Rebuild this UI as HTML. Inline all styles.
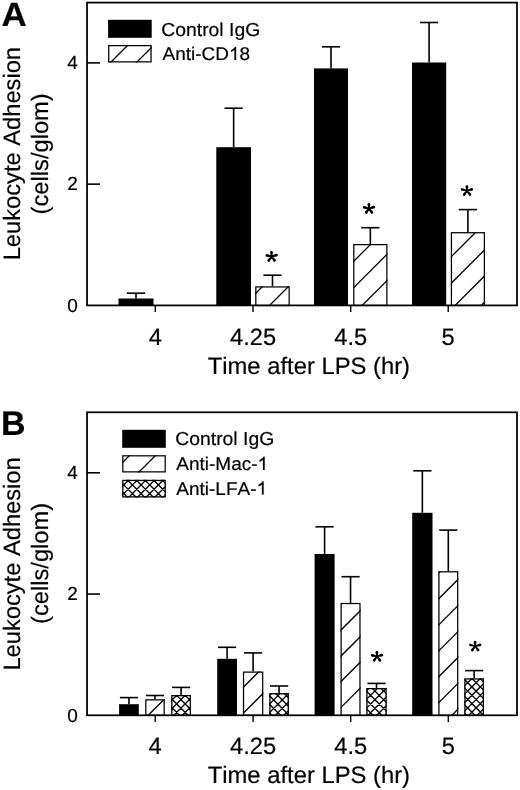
<!DOCTYPE html>
<html><head><meta charset="utf-8"><style>
html,body{margin:0;padding:0;background:#fff;width:520px;height:790px;overflow:hidden;}
svg{display:block;will-change:transform;}
text{font-family:"Liberation Sans", sans-serif;fill:#000;stroke:#000;stroke-width:0.2px;font-kerning:none;text-rendering:geometricPrecision;}
</style></head><body>
<svg width="520" height="790" viewBox="0 0 520 790" stroke="#000" fill="none">
<rect x="87.05" y="2.60" width="429.95" height="302.80" fill="none" stroke-width="1.75"/>
<line x1="87.05" y1="184.14" x2="100.00" y2="184.14" stroke-width="1.6"/>
<line x1="87.05" y1="62.88" x2="100.00" y2="62.88" stroke-width="1.6"/>
<line x1="155.30" y1="305.40" x2="155.30" y2="312.00" stroke-width="1.4"/>
<line x1="253.00" y1="305.40" x2="253.00" y2="312.00" stroke-width="1.4"/>
<line x1="350.70" y1="305.40" x2="350.70" y2="312.00" stroke-width="1.4"/>
<line x1="448.20" y1="305.40" x2="448.20" y2="312.00" stroke-width="1.4"/>
<g transform="translate(77.70 311.60) scale(1 1.0)"><text x="-10.57" y="0" font-size="19">0</text></g>
<g transform="translate(77.70 190.34) scale(1 1.0)"><text x="-10.57" y="0" font-size="19">2</text></g>
<g transform="translate(77.70 69.08) scale(1 1.0)"><text x="-10.57" y="0" font-size="19">4</text></g>
<g transform="translate(155.30 345.10) scale(1 1.0)"><text x="-6.59" y="0" font-size="23.7">4</text></g>
<g transform="translate(253.00 345.10) scale(1 1.0)"><text x="-23.06" y="0" font-size="23.7">4.25</text></g>
<g transform="translate(350.70 345.10) scale(1 1.0)"><text x="-16.47" y="0" font-size="23.7">4.5</text></g>
<g transform="translate(448.20 345.10) scale(1 1.0)"><text x="-6.59" y="0" font-size="23.7">5</text></g>
<g transform="translate(207.70 373.90) scale(1 1.0)"><text x="0.00" y="0" font-size="23.8">Time after LPS (hr)</text></g>
<g transform="translate(19.50 153.60) rotate(-90) scale(1 1.0)"><text x="-106.73" y="0" font-size="23.7">Leukocyte Adhesion</text></g>
<g transform="translate(47.70 153.80) rotate(-90) scale(1 1.0)"><text x="-60.58" y="0" font-size="23.7">(cells/glom)</text></g>
<g transform="translate(1.55 25.80) scale(1 0.96)"><text x="0.00" y="0" font-size="35" font-weight="bold">A</text></g>
<rect x="108.10" y="19.80" width="43.60" height="18.00" fill="#000" stroke="none"/>
<clipPath id="c1"><rect x="108.10" y="45.00" width="43.60" height="17.50"/></clipPath>
<path clip-path="url(#c1)" d="M105.50 67.50L133.00 40.00M131.50 67.50L159.00 40.00" stroke-width="1.3" fill="none"/>
<rect x="108.72" y="45.62" width="42.35" height="16.25" fill="none" stroke-width="1.25"/>
<g transform="translate(161.30 35.50) scale(1 0.97)"><text x="0.00" y="0" font-size="19.35">Control IgG</text></g>
<g transform="translate(162.50 60.00) scale(1 0.97)"><text x="0.00" y="0" font-size="19">Anti-CD</text><path transform="translate(66.51 0) scale(19 19.5876)" d="M0.3726 0L0.2847 0L0.2847 -0.5361Q0.2017 -0.4604 0.1079 -0.4346L0.1079 -0.5160Q0.2637 -0.5851 0.3149 -0.6880L0.3726 -0.6880Z" fill="#000" stroke="#000" stroke-width="0.01053"/><text x="77.08" y="0" font-size="19">8</text></g>
<rect x="118.50" y="298.50" width="35.00" height="6.90" fill="#000" stroke="none"/>
<line x1="136.00" y1="298.50" x2="136.00" y2="293.20" stroke-width="1.6"/>
<line x1="126.90" y1="293.20" x2="145.10" y2="293.20" stroke-width="1.6"/>
<rect x="216.30" y="147.20" width="34.70" height="158.20" fill="#000" stroke="none"/>
<line x1="233.65" y1="147.20" x2="233.65" y2="108.20" stroke-width="1.6"/>
<line x1="224.55" y1="108.20" x2="242.75" y2="108.20" stroke-width="1.6"/>
<rect x="314.00" y="68.40" width="34.00" height="237.00" fill="#000" stroke="none"/>
<line x1="331.00" y1="68.40" x2="331.00" y2="46.80" stroke-width="1.6"/>
<line x1="321.90" y1="46.80" x2="340.10" y2="46.80" stroke-width="1.6"/>
<rect x="412.00" y="62.50" width="34.20" height="242.90" fill="#000" stroke="none"/>
<line x1="429.10" y1="62.50" x2="429.10" y2="22.50" stroke-width="1.6"/>
<line x1="420.00" y1="22.50" x2="438.20" y2="22.50" stroke-width="1.6"/>
<line x1="272.50" y1="286.30" x2="272.50" y2="275.20" stroke-width="1.6"/>
<line x1="263.40" y1="275.20" x2="281.60" y2="275.20" stroke-width="1.6"/>
<clipPath id="c2"><rect x="255.20" y="286.30" width="34.60" height="19.80"/></clipPath>
<path clip-path="url(#c2)" d="M237.90 311.10L267.70 281.30M263.90 311.10L293.70 281.30" stroke-width="1.3" fill="none"/>
<rect x="255.82" y="286.93" width="33.35" height="18.55" fill="none" stroke-width="1.25"/>
<line x1="370.35" y1="244.00" x2="370.35" y2="227.70" stroke-width="1.6"/>
<line x1="361.25" y1="227.70" x2="379.45" y2="227.70" stroke-width="1.6"/>
<clipPath id="c3"><rect x="353.20" y="244.00" width="34.30" height="62.10"/></clipPath>
<path clip-path="url(#c3)" d="M303.90 311.10L376.00 239.00M330.20 311.10L402.30 239.00M356.50 311.10L428.60 239.00" stroke-width="1.3" fill="none"/>
<rect x="353.82" y="244.62" width="33.05" height="60.85" fill="none" stroke-width="1.25"/>
<line x1="467.90" y1="232.10" x2="467.90" y2="209.60" stroke-width="1.6"/>
<line x1="458.80" y1="209.60" x2="477.00" y2="209.60" stroke-width="1.6"/>
<clipPath id="c4"><rect x="450.80" y="232.10" width="34.20" height="74.00"/></clipPath>
<path clip-path="url(#c4)" d="M396.90 311.10L480.90 227.10M423.40 311.10L507.40 227.10M449.40 311.10L533.40 227.10M475.50 311.10L559.50 227.10" stroke-width="1.3" fill="none"/>
<rect x="451.43" y="232.72" width="32.95" height="72.75" fill="none" stroke-width="1.25"/>
<path d="M272.30 256.48L272.90 252.47A1.4 1.4 0 0 0 270.10 252.53L270.90 256.52ZM271.76 255.82L267.11 254.04A1.4 1.4 0 0 0 266.49 256.76L271.44 257.18ZM271.78 257.18L276.77 256.55A1.4 1.4 0 0 0 276.03 253.85L271.42 255.82ZM271.03 256.09L267.66 259.58A1.4 1.4 0 0 0 269.94 261.22L272.17 256.91ZM271.04 256.92L273.38 261.24A1.4 1.4 0 0 0 275.62 259.56L272.16 256.08Z" fill="#000" stroke="none"/>
<circle cx="271.60" cy="256.50" r="1.4" fill="#000" stroke="none"/>
<path d="M369.70 208.48L370.30 204.47A1.4 1.4 0 0 0 367.50 204.53L368.30 208.52ZM369.16 207.82L364.51 206.04A1.4 1.4 0 0 0 363.89 208.76L368.84 209.18ZM369.18 209.18L374.17 208.55A1.4 1.4 0 0 0 373.43 205.85L368.82 207.82ZM368.43 208.09L365.06 211.58A1.4 1.4 0 0 0 367.34 213.22L369.57 208.91ZM368.44 208.92L370.78 213.24A1.4 1.4 0 0 0 373.02 211.56L369.56 208.08Z" fill="#000" stroke="none"/>
<circle cx="369.00" cy="208.50" r="1.4" fill="#000" stroke="none"/>
<path d="M467.70 190.58L468.30 186.57A1.4 1.4 0 0 0 465.50 186.63L466.30 190.62ZM467.16 189.92L462.51 188.14A1.4 1.4 0 0 0 461.89 190.86L466.84 191.28ZM467.18 191.28L472.17 190.65A1.4 1.4 0 0 0 471.43 187.95L466.82 189.92ZM466.43 190.19L463.06 193.68A1.4 1.4 0 0 0 465.34 195.32L467.57 191.01ZM466.44 191.02L468.78 195.34A1.4 1.4 0 0 0 471.02 193.66L467.56 190.18Z" fill="#000" stroke="none"/>
<circle cx="467.00" cy="190.60" r="1.4" fill="#000" stroke="none"/>
<rect x="87.05" y="412.30" width="429.95" height="303.00" fill="none" stroke-width="1.75"/>
<line x1="87.05" y1="594.04" x2="100.00" y2="594.04" stroke-width="1.6"/>
<line x1="87.05" y1="472.78" x2="100.00" y2="472.78" stroke-width="1.6"/>
<line x1="155.20" y1="715.30" x2="155.20" y2="721.90" stroke-width="1.4"/>
<line x1="253.10" y1="715.30" x2="253.10" y2="721.90" stroke-width="1.4"/>
<line x1="350.70" y1="715.30" x2="350.70" y2="721.90" stroke-width="1.4"/>
<line x1="448.30" y1="715.30" x2="448.30" y2="721.90" stroke-width="1.4"/>
<g transform="translate(77.70 721.50) scale(1 1.0)"><text x="-10.57" y="0" font-size="19">0</text></g>
<g transform="translate(77.70 600.24) scale(1 1.0)"><text x="-10.57" y="0" font-size="19">2</text></g>
<g transform="translate(77.70 478.98) scale(1 1.0)"><text x="-10.57" y="0" font-size="19">4</text></g>
<g transform="translate(155.20 754.40) scale(1 1.0)"><text x="-6.59" y="0" font-size="23.7">4</text></g>
<g transform="translate(253.10 754.40) scale(1 1.0)"><text x="-23.06" y="0" font-size="23.7">4.25</text></g>
<g transform="translate(350.70 754.40) scale(1 1.0)"><text x="-16.47" y="0" font-size="23.7">4.5</text></g>
<g transform="translate(448.30 754.40) scale(1 1.0)"><text x="-6.59" y="0" font-size="23.7">5</text></g>
<g transform="translate(207.70 783.40) scale(1 1.0)"><text x="0.00" y="0" font-size="23.8">Time after LPS (hr)</text></g>
<g transform="translate(19.50 563.90) rotate(-90) scale(1 1.0)"><text x="-106.73" y="0" font-size="23.7">Leukocyte Adhesion</text></g>
<g transform="translate(47.70 563.40) rotate(-90) scale(1 1.0)"><text x="-60.58" y="0" font-size="23.7">(cells/glom)</text></g>
<g transform="translate(1.10 435.20) scale(1 1.0)"><text x="0.00" y="0" font-size="34" font-weight="bold">B</text></g>
<rect x="122.20" y="429.80" width="43.60" height="18.00" fill="#000" stroke="none"/>
<clipPath id="c5"><rect x="122.20" y="455.20" width="43.60" height="17.30"/></clipPath>
<path clip-path="url(#c5)" d="M107.50 477.50L134.80 450.20M133.50 477.50L160.80 450.20" stroke-width="1.3" fill="none"/>
<rect x="122.83" y="455.82" width="42.35" height="16.05" fill="none" stroke-width="1.25"/>
<clipPath id="c6"><rect x="122.20" y="479.80" width="43.60" height="17.70"/></clipPath>
<path clip-path="url(#c6)" d="M80.25 502.50L107.95 474.80M88.90 502.50L116.60 474.80M97.55 502.50L125.25 474.80M106.20 502.50L133.90 474.80M114.85 502.50L142.55 474.80M123.50 502.50L151.20 474.80M132.15 502.50L159.85 474.80M140.80 502.50L168.50 474.80M149.45 502.50L177.15 474.80M158.10 502.50L185.80 474.80M166.75 502.50L194.45 474.80M175.40 502.50L203.10 474.80M79.05 474.80L106.75 502.50M87.70 474.80L115.40 502.50M96.35 474.80L124.05 502.50M105.00 474.80L132.70 502.50M113.65 474.80L141.35 502.50M122.30 474.80L150.00 502.50M130.95 474.80L158.65 502.50M139.60 474.80L167.30 502.50M148.25 474.80L175.95 502.50M156.90 474.80L184.60 502.50M165.55 474.80L193.25 502.50M174.20 474.80L201.90 502.50" stroke-width="1.35" fill="none"/>
<rect x="122.85" y="480.45" width="42.30" height="16.40" fill="none" stroke-width="1.3"/>
<g transform="translate(175.30 445.40) scale(1 0.97)"><text x="0.00" y="0" font-size="19.35">Control IgG</text></g>
<g transform="translate(176.30 469.90) scale(1 0.97)"><text x="0.00" y="0" font-size="19">Anti-Mac-</text><path transform="translate(81.29 0) scale(19 19.5876)" d="M0.3726 0L0.2847 0L0.2847 -0.5361Q0.2017 -0.4604 0.1079 -0.4346L0.1079 -0.5160Q0.2637 -0.5851 0.3149 -0.6880L0.3726 -0.6880Z" fill="#000" stroke="#000" stroke-width="0.01053"/></g>
<g transform="translate(176.30 494.60) scale(1 0.97)"><text x="0.00" y="0" font-size="19">Anti-LFA-</text><path transform="translate(80.24 0) scale(19 19.5876)" d="M0.3726 0L0.2847 0L0.2847 -0.5361Q0.2017 -0.4604 0.1079 -0.4346L0.1079 -0.5160Q0.2637 -0.5851 0.3149 -0.6880L0.3726 -0.6880Z" fill="#000" stroke="#000" stroke-width="0.01053"/></g>
<rect x="119.10" y="704.20" width="19.70" height="11.10" fill="#000" stroke="none"/>
<line x1="128.95" y1="704.20" x2="128.95" y2="697.60" stroke-width="1.6"/>
<line x1="119.85" y1="697.60" x2="138.05" y2="697.60" stroke-width="1.6"/>
<rect x="217.20" y="658.80" width="19.80" height="56.50" fill="#000" stroke="none"/>
<line x1="227.10" y1="658.80" x2="227.10" y2="647.30" stroke-width="1.6"/>
<line x1="218.00" y1="647.30" x2="236.20" y2="647.30" stroke-width="1.6"/>
<rect x="314.60" y="554.00" width="20.00" height="161.30" fill="#000" stroke="none"/>
<line x1="324.60" y1="554.00" x2="324.60" y2="526.80" stroke-width="1.6"/>
<line x1="315.50" y1="526.80" x2="333.70" y2="526.80" stroke-width="1.6"/>
<rect x="412.20" y="512.80" width="20.30" height="202.50" fill="#000" stroke="none"/>
<line x1="422.35" y1="512.80" x2="422.35" y2="470.80" stroke-width="1.6"/>
<line x1="413.25" y1="470.80" x2="431.45" y2="470.80" stroke-width="1.6"/>
<line x1="155.00" y1="699.20" x2="155.00" y2="695.50" stroke-width="1.6"/>
<line x1="145.90" y1="695.50" x2="164.10" y2="695.50" stroke-width="1.6"/>
<clipPath id="c7"><rect x="145.20" y="699.20" width="19.60" height="16.80"/></clipPath>
<path clip-path="url(#c7)" d="M142.50 721.00L169.30 694.20" stroke-width="1.3" fill="none"/>
<rect x="145.82" y="699.83" width="18.35" height="15.55" fill="none" stroke-width="1.25"/>
<line x1="253.10" y1="671.50" x2="253.10" y2="652.90" stroke-width="1.6"/>
<line x1="244.00" y1="652.90" x2="262.20" y2="652.90" stroke-width="1.6"/>
<clipPath id="c8"><rect x="242.90" y="671.50" width="20.40" height="44.50"/></clipPath>
<path clip-path="url(#c8)" d="M209.50 721.00L264.00 666.50M235.50 721.00L290.00 666.50" stroke-width="1.3" fill="none"/>
<rect x="243.53" y="672.12" width="19.15" height="43.25" fill="none" stroke-width="1.25"/>
<line x1="350.55" y1="602.90" x2="350.55" y2="576.70" stroke-width="1.6"/>
<line x1="341.45" y1="576.70" x2="359.65" y2="576.70" stroke-width="1.6"/>
<clipPath id="c9"><rect x="340.50" y="602.90" width="20.10" height="113.10"/></clipPath>
<path clip-path="url(#c9)" d="M250.00 721.00L373.10 597.90M276.00 721.00L399.10 597.90M301.50 721.00L424.60 597.90M327.30 721.00L450.40 597.90" stroke-width="1.3" fill="none"/>
<rect x="341.12" y="603.52" width="18.85" height="111.85" fill="none" stroke-width="1.25"/>
<line x1="448.30" y1="571.20" x2="448.30" y2="530.10" stroke-width="1.6"/>
<line x1="439.20" y1="530.10" x2="457.40" y2="530.10" stroke-width="1.6"/>
<clipPath id="c10"><rect x="438.30" y="571.20" width="20.00" height="144.80"/></clipPath>
<path clip-path="url(#c10)" d="M290.50 721.00L445.30 566.20M316.50 721.00L471.30 566.20M342.60 721.00L497.40 566.20M368.60 721.00L523.40 566.20M394.50 721.00L549.30 566.20M420.30 721.00L575.10 566.20M446.20 721.00L601.00 566.20" stroke-width="1.3" fill="none"/>
<rect x="438.93" y="571.83" width="18.75" height="143.55" fill="none" stroke-width="1.25"/>
<line x1="181.10" y1="695.00" x2="181.10" y2="687.40" stroke-width="1.6"/>
<line x1="172.00" y1="687.40" x2="190.20" y2="687.40" stroke-width="1.6"/>
<clipPath id="c11"><rect x="171.20" y="695.00" width="19.80" height="21.00"/></clipPath>
<path clip-path="url(#c11)" d="M125.50 721.00L156.50 690.00M134.00 721.00L165.00 690.00M142.50 721.00L173.50 690.00M151.00 721.00L182.00 690.00M159.50 721.00L190.50 690.00M168.00 721.00L199.00 690.00M176.50 721.00L207.50 690.00M185.00 721.00L216.00 690.00M193.50 721.00L224.50 690.00M202.00 721.00L233.00 690.00M120.30 690.00L151.30 721.00M128.80 690.00L159.80 721.00M137.30 690.00L168.30 721.00M145.80 690.00L176.80 721.00M154.30 690.00L185.30 721.00M162.80 690.00L193.80 721.00M171.30 690.00L202.30 721.00M179.80 690.00L210.80 721.00M188.30 690.00L219.30 721.00M196.80 690.00L227.80 721.00" stroke-width="1.35" fill="none"/>
<rect x="171.85" y="695.65" width="18.50" height="19.70" fill="none" stroke-width="1.3"/>
<line x1="279.10" y1="693.10" x2="279.10" y2="686.00" stroke-width="1.6"/>
<line x1="270.00" y1="686.00" x2="288.20" y2="686.00" stroke-width="1.6"/>
<clipPath id="c12"><rect x="269.30" y="693.10" width="19.60" height="22.90"/></clipPath>
<path clip-path="url(#c12)" d="M218.60 721.00L251.50 688.10M227.10 721.00L260.00 688.10M235.60 721.00L268.50 688.10M244.10 721.00L277.00 688.10M252.60 721.00L285.50 688.10M261.10 721.00L294.00 688.10M269.60 721.00L302.50 688.10M278.10 721.00L311.00 688.10M286.60 721.00L319.50 688.10M295.10 721.00L328.00 688.10M219.30 688.10L252.20 721.00M227.80 688.10L260.70 721.00M236.30 688.10L269.20 721.00M244.80 688.10L277.70 721.00M253.30 688.10L286.20 721.00M261.80 688.10L294.70 721.00M270.30 688.10L303.20 721.00M278.80 688.10L311.70 721.00M287.30 688.10L320.20 721.00M295.80 688.10L328.70 721.00" stroke-width="1.35" fill="none"/>
<rect x="269.95" y="693.75" width="18.30" height="21.60" fill="none" stroke-width="1.3"/>
<line x1="376.50" y1="688.00" x2="376.50" y2="683.40" stroke-width="1.6"/>
<line x1="367.40" y1="683.40" x2="385.60" y2="683.40" stroke-width="1.6"/>
<clipPath id="c13"><rect x="366.30" y="688.00" width="20.40" height="28.00"/></clipPath>
<path clip-path="url(#c13)" d="M310.10 721.00L348.10 683.00M318.80 721.00L356.80 683.00M327.50 721.00L365.50 683.00M336.20 721.00L374.20 683.00M344.90 721.00L382.90 683.00M353.60 721.00L391.60 683.00M362.30 721.00L400.30 683.00M371.00 721.00L409.00 683.00M379.70 721.00L417.70 683.00M388.40 721.00L426.40 683.00M397.10 721.00L435.10 683.00M314.70 683.00L352.70 721.00M323.40 683.00L361.40 721.00M332.10 683.00L370.10 721.00M340.80 683.00L378.80 721.00M349.50 683.00L387.50 721.00M358.20 683.00L396.20 721.00M366.90 683.00L404.90 721.00M375.60 683.00L413.60 721.00M384.30 683.00L422.30 721.00M393.00 683.00L431.00 721.00" stroke-width="1.35" fill="none"/>
<rect x="366.95" y="688.65" width="19.10" height="26.70" fill="none" stroke-width="1.3"/>
<line x1="474.15" y1="678.30" x2="474.15" y2="670.60" stroke-width="1.6"/>
<line x1="465.05" y1="670.60" x2="483.25" y2="670.60" stroke-width="1.6"/>
<clipPath id="c14"><rect x="464.30" y="678.30" width="19.70" height="37.70"/></clipPath>
<path clip-path="url(#c14)" d="M404.20 721.00L451.90 673.30M412.60 721.00L460.30 673.30M421.00 721.00L468.70 673.30M429.40 721.00L477.10 673.30M437.80 721.00L485.50 673.30M446.20 721.00L493.90 673.30M454.60 721.00L502.30 673.30M463.00 721.00L510.70 673.30M471.40 721.00L519.10 673.30M479.80 721.00L527.50 673.30M488.20 721.00L535.90 673.30M399.50 673.30L447.20 721.00M407.90 673.30L455.60 721.00M416.30 673.30L464.00 721.00M424.70 673.30L472.40 721.00M433.10 673.30L480.80 721.00M441.50 673.30L489.20 721.00M449.90 673.30L497.60 721.00M458.30 673.30L506.00 721.00M466.70 673.30L514.40 721.00M475.10 673.30L522.80 721.00M483.50 673.30L531.20 721.00M491.90 673.30L539.60 721.00" stroke-width="1.35" fill="none"/>
<rect x="464.95" y="678.95" width="18.40" height="36.40" fill="none" stroke-width="1.3"/>
<path d="M377.70 656.38L378.30 652.37A1.4 1.4 0 0 0 375.50 652.43L376.30 656.42ZM377.16 655.72L372.51 653.94A1.4 1.4 0 0 0 371.89 656.66L376.84 657.08ZM377.18 657.08L382.17 656.45A1.4 1.4 0 0 0 381.43 653.75L376.82 655.72ZM376.43 655.99L373.06 659.48A1.4 1.4 0 0 0 375.34 661.12L377.57 656.81ZM376.44 656.82L378.78 661.14A1.4 1.4 0 0 0 381.02 659.46L377.56 655.98Z" fill="#000" stroke="none"/>
<circle cx="377.00" cy="656.40" r="1.4" fill="#000" stroke="none"/>
<path d="M475.90 646.08L476.50 642.07A1.4 1.4 0 0 0 473.70 642.13L474.50 646.12ZM475.36 645.42L470.71 643.64A1.4 1.4 0 0 0 470.09 646.36L475.04 646.78ZM475.38 646.78L480.37 646.15A1.4 1.4 0 0 0 479.63 643.45L475.02 645.42ZM474.63 645.69L471.26 649.18A1.4 1.4 0 0 0 473.54 650.82L475.77 646.51ZM474.64 646.52L476.98 650.84A1.4 1.4 0 0 0 479.22 649.16L475.76 645.68Z" fill="#000" stroke="none"/>
<circle cx="475.20" cy="646.10" r="1.4" fill="#000" stroke="none"/>
</svg>
</body></html>
